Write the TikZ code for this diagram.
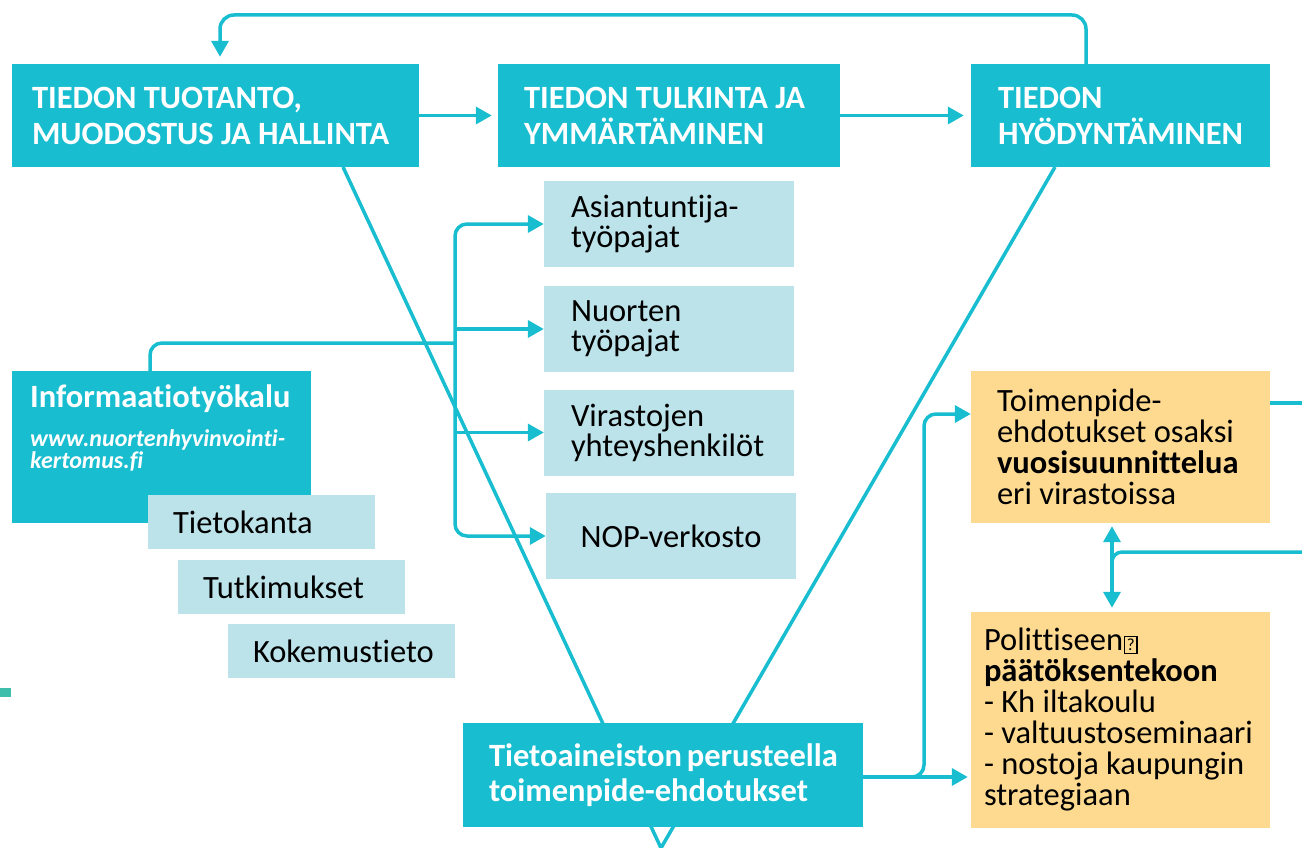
\documentclass[tikz,border=0pt]{standalone}
\usepackage{fontspec}
\setmainfont{Carlito}[Ligatures={NoCommon,NoRequired,NoContextual}]
\usepackage{tikz}
\usetikzlibrary{arrows.meta}
\definecolor{tealbox}{RGB}{24,189,208}
\definecolor{palebox}{RGB}{188,227,234}
\definecolor{sandbox}{RGB}{254,218,145}
\definecolor{mintmark}{RGB}{64,190,172}
\hyphenpenalty=10000
\exhyphenpenalty=10000
\newcommand{\bigfont}{\fontsize{32.5}{36}\selectfont}
\newcommand{\qmark}{\hspace{1pt}{\fboxsep=1.5pt\fboxrule=1.3pt\fbox{\fontsize{17}{17}\selectfont\rule{0pt}{12pt}?}}}
\tikzset{
    head/.style={fill=tealbox, text=white, font=\bigfont\bfseries, align=flush left, inner ysep=0pt, minimum height=103pt},
    sub/.style={fill=palebox, font=\fontsize{32.5}{30}\selectfont, align=flush left, inner xsep=27pt, inner ysep=0pt, text width=196pt, minimum height=86pt},
    src/.style={fill=palebox, font=\bigfont, align=flush left, inner xsep=25pt, inner ysep=0pt, text width=177pt, minimum height=54pt},
    act/.style={fill=sandbox, font=\fontsize{32.5}{31}\selectfont, align=flush left, inner ysep=0pt, minimum height=152pt},
    wire/.style={draw=tealbox, line width=3.5pt},
    arr/.style={wire, -{Triangle[length=16pt,width=17pt]}},
    dbl/.style={wire, {Triangle[length=16pt,width=17pt]}-{Triangle[length=16pt,width=17pt]}},
}

\begin{document}
\begin{tikzpicture}[x=1pt, y=-1pt]

            \useasboundingbox (0,0) rectangle (1302,848);
            \clip (0,0) rectangle (1302,848);

            \coordinate (va) at (343,167);
            \coordinate (vc) at (1055,167);
            \coordinate (v) at (661,848);
            \draw[wire] (va) -- (v) -- (vc);

            \node[head, text width=367pt, inner xsep=20pt] (A) at (215.5,115.5) {TIEDON TUOTANTO,\\MUODOSTUS~JA~HALLINTA};
            \node[head, text width=290pt, inner xsep=26pt] (B) at (669,115.5) {TIEDON~TULKINTA~JA\\YMMÄRTÄMINEN};
            \node[head, text width=245pt, inner xsep=27pt] (C) at (1120.5,115.5) {TIEDON\\HYÖDYNTÄMINEN};

            \node[sub] (D1) at (669,224) {Asiantuntija-\\työpajat};
            \node[sub] (D2) at (669,329) {Nuorten\\työpajat};
            \node[sub] (D3) at (669,432.5) {Virastojen\\yhteyshenkilöt};
            \node[sub, align=center] (D4) at (671,536) {NOP-verkosto};

            \node[fill=tealbox, minimum width=299pt, minimum height=152pt, inner sep=0pt] (I) at (161.5,447) {};
            \node[anchor=base west, inner sep=0pt, text=white, font=\bigfont\bfseries] (It) at (30,407) {Informaatiotyökalu};
            \node[anchor=north west, inner sep=0pt, text=white, align=flush left, font=\fontsize{24}{22}\selectfont\bfseries\itshape] (Iu) at (30,429) {www.nuortenhyvinvointi-\\kertomus.fi};
            \node[src] (K1) at (261.5,522) {Tietokanta};
            \node[src] (K2) at (291.5,587) {Tutkimukset};
            \node[src] (K3) at (341.5,651) {Kokemustieto};

            \node[head, text width=348pt, inner xsep=26pt, minimum height=104pt, font=\fontsize{32.5}{35}\selectfont\bfseries] (E) at (663,775) {Tietoaineiston~perusteella\\toimenpide-ehdotukset};

            \node[act, text width=247pt, inner xsep=26pt] (F) at (1120.5,447) {Toimenpide-\\ehdotukset~osaksi\\\textbf{vuosisuunnittelua}\\eri~virastoissa};
            \node[act, text width=273pt, inner xsep=13pt, minimum height=216pt] (G) at (1120.5,720) {Polittiseen\qmark\\\textbf{päätöksentekoon}\\-~Kh~iltakoulu\\-~valtuustoseminaari\\-~nostoja~kaupungin\\strategiaan};

            \fill[mintmark] (0,688) rectangle (11,697);

            \coordinate (fb) at (1086,15);
            \coordinate (fa) at (220,15);
            \draw[arr, rounded corners=14pt, shorten >=7pt] (C.north -| fb) -- (fb) -- (fa) -- (A.north -| fa);
            \draw[arr, shorten >=6pt] (A) -- (B);
            \draw[arr, shorten >=7pt] (B) -- (C);

            \coordinate (br) at (455,343);
            \coordinate (bi) at (150,343);
            \draw[wire, rounded corners=12pt] (I.north -| bi) -- (bi) -- (br);
            \draw[dbl, rounded corners=12pt] (D1.west) -| (br) |- (D4.west);
            \draw[arr] (br |- D2.west) -- (D2.west);
            \draw[arr] (br |- D3.west) -- (D3.west);

            \coordinate (ey) at (924,777);
            \coordinate (fy) at (924,414);
            \draw[arr, shorten >=3pt] (E.east |- ey) -- (G.west |- ey);
            \draw[arr, rounded corners=12pt] (E.east |- ey) -- (ey) -- (fy) -- (F.west |- fy);

            \coordinate (dx) at (1112,552);
            \coordinate (db) at (1112,590);
            \coordinate (rr) at (1302,552);
            \coordinate (fr) at (1302,403);
            \draw[dbl, shorten <=3pt, shorten >=4pt] (F.south -| dx) -- (G.north -| dx);
            \draw[wire, rounded corners=10pt] (rr) -- (dx) -- (db);
            \draw[wire] (F.east |- fr) -- (fr);

\end{tikzpicture}
\end{document}
